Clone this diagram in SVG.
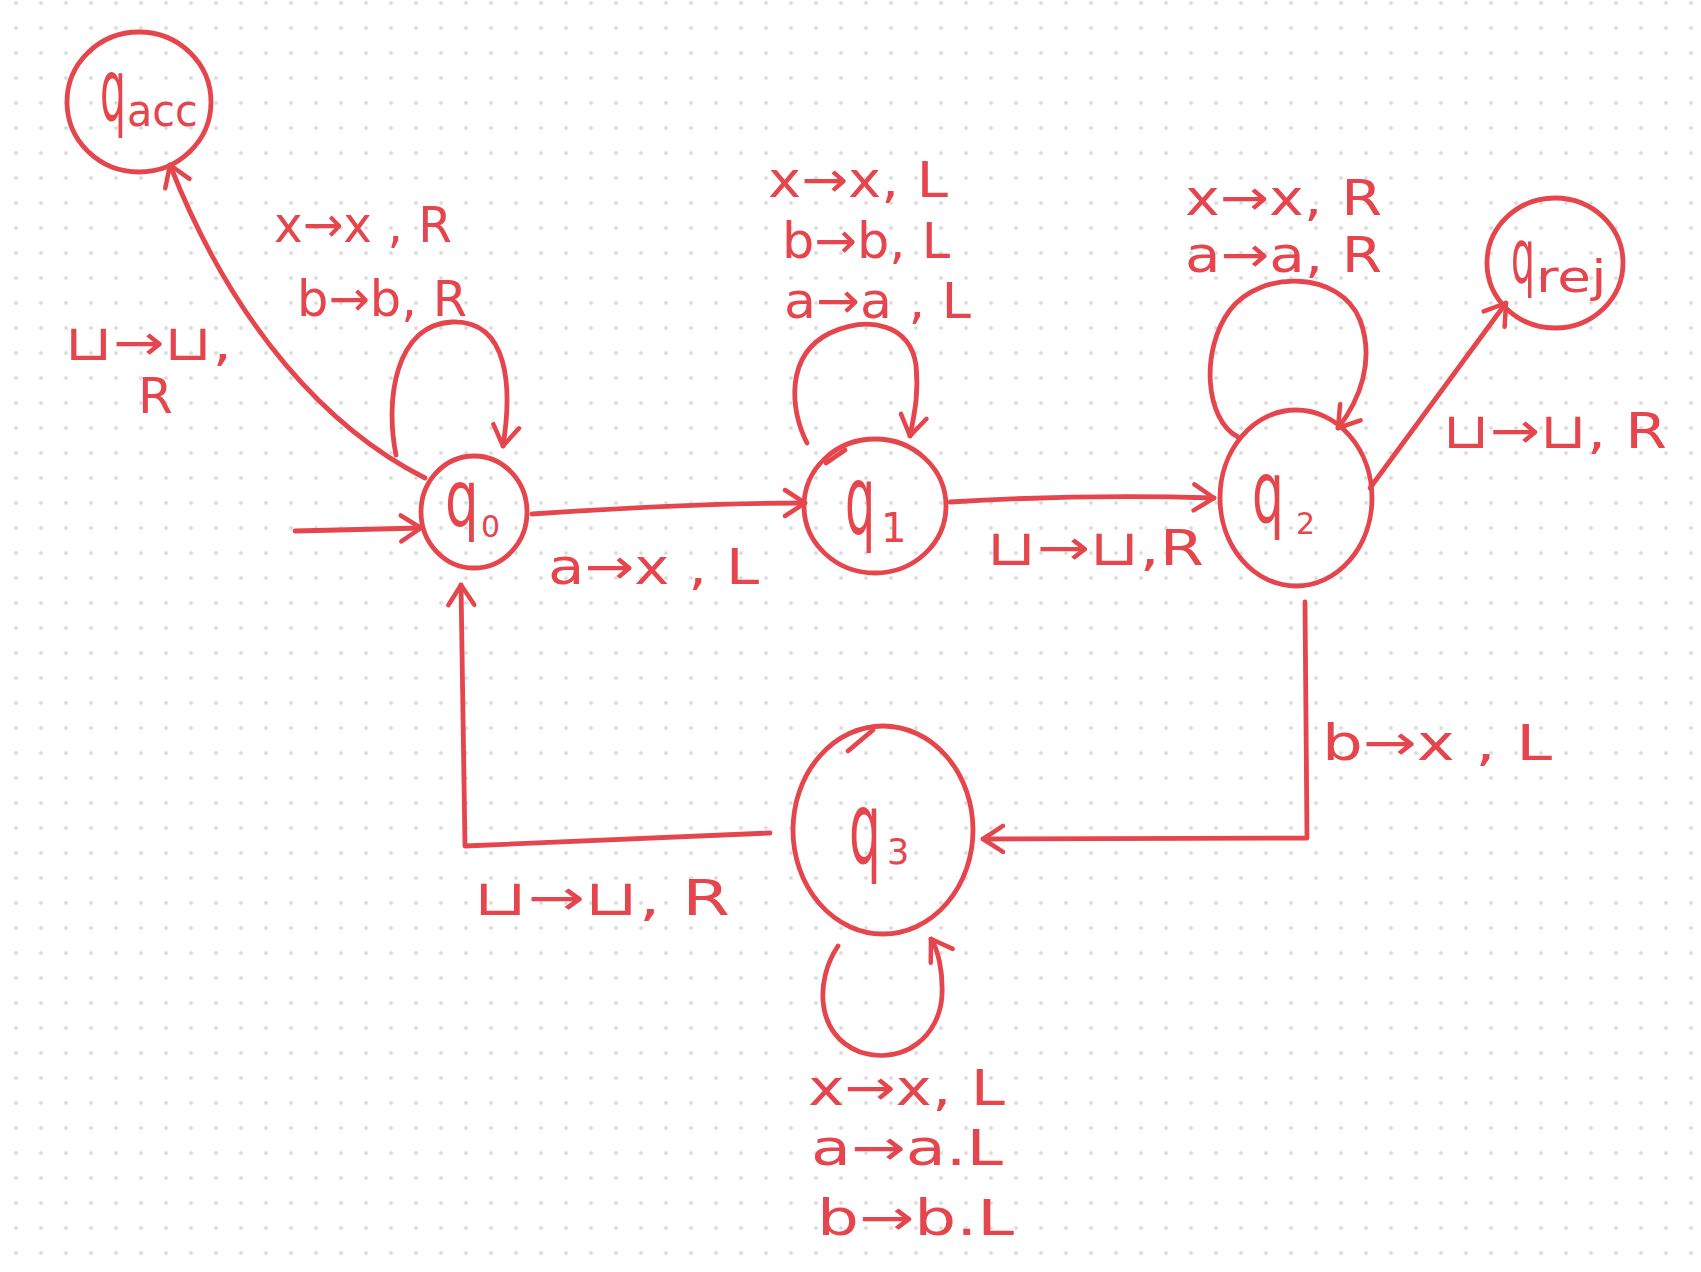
<svg xmlns="http://www.w3.org/2000/svg" width="1701" height="1272" viewBox="0 0 1701 1272">
<defs>
<pattern id="dots" x="3.5" y="-9.5" width="25" height="25" patternUnits="userSpaceOnUse">
<circle cx="12.5" cy="12.5" r="2" fill="#d9d9d9"/>
</pattern>
<marker id="arr" markerUnits="userSpaceOnUse" markerWidth="40" markerHeight="40" viewBox="-30 -20 40 40" refX="0" refY="0" orient="auto">
<path d="M -20 -13 L 0 0 L -20 13" fill="none" stroke="#e5454c" stroke-width="4.5" stroke-linecap="round" stroke-linejoin="round"/>
</marker>
<style>
.st{fill:none;stroke:#e5454c;stroke-width:4.8;stroke-linecap:round;stroke-linejoin:round}
.lb{fill:#e5454c;font-family:"DejaVu Sans",sans-serif;font-size:50px}
.nq{fill:#e5454c;font-family:"DejaVu Sans",sans-serif}
</style>
</defs>
<rect width="1701" height="1272" fill="#ffffff"/>
<rect width="1701" height="1272" fill="url(#dots)"/>

<g id="connectors">
<path class="st" d="M 295 531 L 421 528" marker-end="url(#arr)"/>
<path class="st" d="M 425 478 C 330 430, 235 330, 170 165" marker-end="url(#arr)"/>
<path class="st" d="M 396 455 C 385 400, 395 325, 452 322 C 510 320, 512 390, 503 446" marker-end="url(#arr)"/>
<path class="st" d="M 532 514 C 620 508, 720 503, 805 503" marker-end="url(#arr)"/>
<path class="st" d="M 807 443 C 790 410, 785 355, 830 333 C 870 315, 910 325, 916 365 C 919 395, 914 415, 910 436" marker-end="url(#arr)"/>
<path class="st" d="M 950 502 C 1050 496, 1150 496, 1214 498" marker-end="url(#arr)"/>
<path class="st" d="M 1238 437 C 1205 420, 1200 350, 1230 310 C 1260 270, 1340 270, 1360 320 C 1375 360, 1360 400, 1338 428" marker-end="url(#arr)"/>
<path class="st" d="M 1370 488 L 1506 303" marker-end="url(#arr)"/>
<path class="st" d="M 1305 602 L 1307 838 L 983 839" marker-end="url(#arr)"/>
<path class="st" d="M 770 833 L 465 846 L 461 585" marker-end="url(#arr)"/>
<path class="st" d="M 838 946 C 815 980, 815 1035, 860 1052 C 905 1066, 940 1035, 942 995 C 943 970, 938 950, 931 939" marker-end="url(#arr)"/>

<text class="lb" x="65" y="360" textLength="167" lengthAdjust="spacingAndGlyphs">⊔→⊔,</text>
<text class="lb" x="138" y="413">R</text>
<text class="lb" x="274" y="242" textLength="178" lengthAdjust="spacingAndGlyphs">x→x , R</text>
<text class="lb" x="297" y="316" textLength="170" lengthAdjust="spacingAndGlyphs">b→b, R</text>
<text class="lb" x="548" y="584" textLength="211" lengthAdjust="spacingAndGlyphs">a→x , L</text>
<text class="lb" x="768" y="197" textLength="180" lengthAdjust="spacingAndGlyphs">x→x, L</text>
<text class="lb" x="782" y="258" textLength="168" lengthAdjust="spacingAndGlyphs">b→b, L</text>
<text class="lb" x="784" y="318" textLength="187" lengthAdjust="spacingAndGlyphs">a→a , L</text>
<text class="lb" x="987" y="565" textLength="217" lengthAdjust="spacingAndGlyphs">⊔→⊔,R</text>
<text class="lb" x="1185" y="215" textLength="197" lengthAdjust="spacingAndGlyphs">x→x, R</text>
<text class="lb" x="1185" y="272" textLength="197" lengthAdjust="spacingAndGlyphs">a→a, R</text>
<text class="lb" x="1443" y="448" textLength="224" lengthAdjust="spacingAndGlyphs">⊔→⊔, R</text>
<text class="lb" x="1322" y="760" textLength="230" lengthAdjust="spacingAndGlyphs">b→x , L</text>
<text class="lb" x="474" y="915" textLength="256" lengthAdjust="spacingAndGlyphs">⊔→⊔, R</text>
<text class="lb" x="808" y="1105" textLength="197" lengthAdjust="spacingAndGlyphs">x→x, L</text>
<text class="lb" x="811" y="1165" textLength="192" lengthAdjust="spacingAndGlyphs">a→a.L</text>
<text class="lb" x="817" y="1235" textLength="197" lengthAdjust="spacingAndGlyphs">b→b.L</text>
</g>

<g id="q_acc">
<ellipse class="st" cx="139" cy="102" rx="72" ry="70"/>
<text class="nq" font-size="85" transform="translate(100,120) scale(0.48,1)">q</text>
<text class="nq" font-size="44" transform="translate(127,126) scale(0.94,1)">acc</text>
</g>
<g id="q0">
<ellipse class="st" cx="474" cy="512" rx="53" ry="56"/>
<text class="nq" font-size="78" transform="translate(445,526) scale(0.68,1)">q</text>
<text class="nq" x="481" y="537" font-size="30">0</text>
</g>
<g id="q1">
<ellipse class="st" cx="875" cy="506" rx="71" ry="67"/>
<path class="st" d="M 826 463 L 845 450"/>
<text class="nq" font-size="95" transform="translate(845,533) scale(0.5,1)">q</text>
<text class="nq" x="881" y="542" font-size="40">1</text>
</g>
<g id="q2">
<ellipse class="st" cx="1296" cy="498" rx="76" ry="88"/>
<text class="nq" font-size="85" transform="translate(1252,522) scale(0.59,1)">q</text>
<text class="nq" x="1296" y="534" font-size="30">2</text>
</g>
<g id="q_rej">
<ellipse class="st" cx="1555" cy="263" rx="68" ry="65"/>
<text class="nq" font-size="75" transform="translate(1511,282) scale(0.5,1)">q</text>
<text class="nq" font-size="45" transform="translate(1536,292) scale(1.22,1)">rej</text>
</g>
<g id="q3">
<ellipse class="st" cx="883" cy="830" rx="90" ry="104"/>
<path class="st" d="M 848 751 L 873 730"/>
<text class="nq" font-size="100" transform="translate(849,863) scale(0.5,1)">q</text>
<text class="nq" x="887" y="864" font-size="35">3</text>
</g>
</svg>
